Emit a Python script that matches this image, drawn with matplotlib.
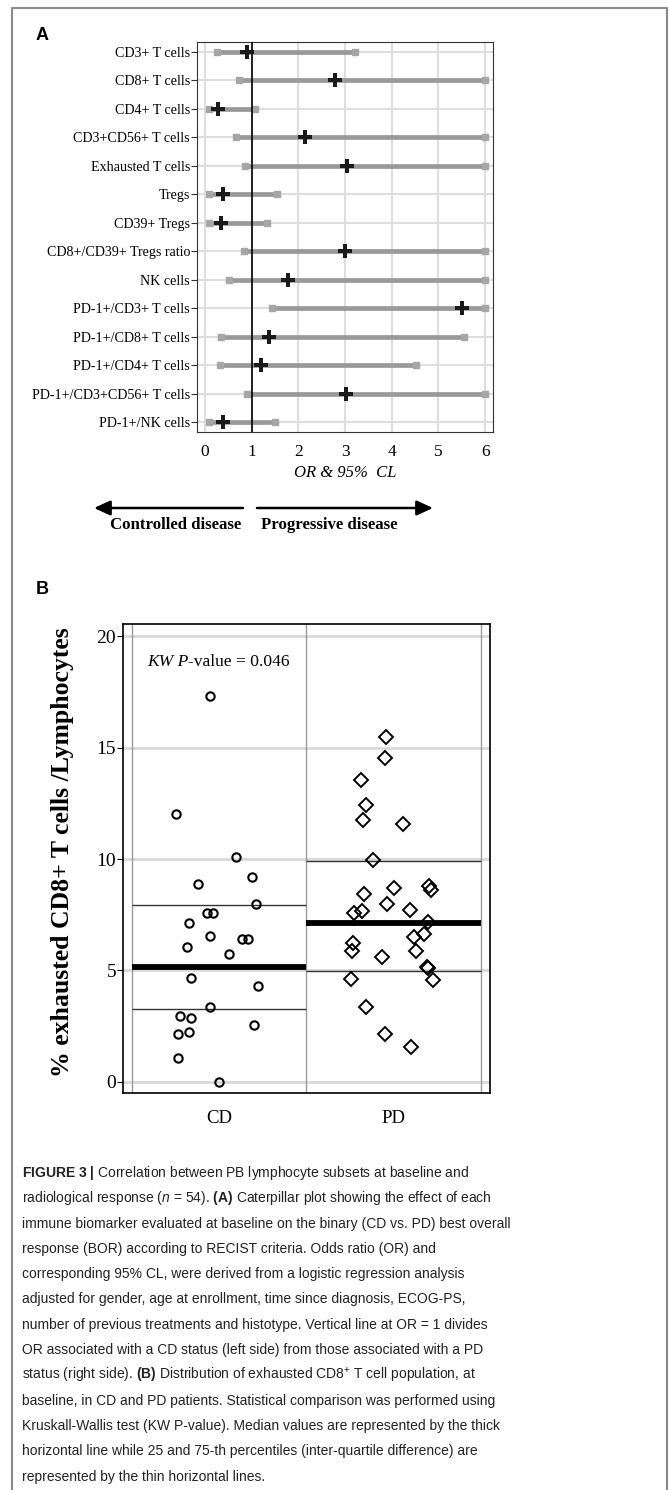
import matplotlib
matplotlib.use("Agg")
import matplotlib.pyplot as plt
from matplotlib import font_manager
from matplotlib.lines import Line2D
from matplotlib.patches import FancyArrowPatch
import numpy as np

# panel A: odds ratios and 95% CL per biomarker
biomarkers = ["CD3+ T cells", "CD8+ T cells", "CD4+ T cells", "CD3+CD56+ T cells",
              "Exhausted T cells", "Tregs", "CD39+ Tregs", "CD8+/CD39+ Tregs ratio",
              "NK cells", "PD-1+/CD3+ T cells", "PD-1+/CD8+ T cells", "PD-1+/CD4+ T cells",
              "PD-1+/CD3+CD56+ T cells", "PD-1+/NK cells"]
odds = [0.91, 2.79, 0.29, 2.14, 3.05, 0.39, 0.34, 3.01, 1.78, 5.50, 1.38, 1.20, 3.02, 0.39]
cl_low = [0.26, 0.74, 0.08, 0.66, 0.86, 0.09, 0.09, 0.83, 0.52, 1.43, 0.34, 0.32, 0.91, 0.09]
cl_high = [3.22, 6.0, 1.07, 6.0, 6.0, 1.55, 1.32, 6.0, 6.0, 6.0, 5.54, 4.52, 6.0, 1.51]

# panel B: % exhausted CD8+ T cells / lymphocytes (x = jittered group position)
cd_x = [0.949, 0.756, 1.098, 0.880, 1.191, 1.212, 0.827, 0.930, 0.968, 0.949, 0.819, 1.134,
        1.168, 1.056, 0.840, 1.226, 0.947, 0.775, 0.840, 0.764, 0.827, 1.201, 0.764, 0.999]
cd_y = [17.30, 12.03, 10.09, 8.89, 9.21, 7.97, 7.12, 7.56, 7.56, 6.55, 6.07, 6.40,
        6.40, 5.74, 4.66, 4.30, 3.35, 2.97, 2.85, 2.17, 2.24, 2.56, 1.05, 0.0]
pd_x = [1.956, 1.952, 1.812, 1.843, 1.827, 2.055, 1.885, 1.833, 2.001, 2.204, 2.215, 1.963,
        1.776, 1.820, 2.095, 2.200, 2.120, 2.173, 1.766, 1.764, 2.131, 1.933, 2.192, 2.198,
        1.755, 2.225, 1.843, 1.952, 2.100]
pd_y = [15.49, 14.54, 13.53, 12.44, 11.75, 11.58, 9.96, 8.43, 8.70, 8.80, 8.61, 8.00,
        7.59, 7.68, 7.71, 7.16, 6.50, 6.64, 6.25, 5.87, 5.87, 5.62, 5.17, 5.10,
        4.62, 4.57, 3.35, 2.15, 1.58]
groups = ["CD", "PD"]
medians = [5.17, 7.12]
q1 = [3.26, 4.99]
q3 = [7.94, 9.91]

caption = [
    r"$\mathbf{FIGURE\ 3\ |}$ Correlation between PB lymphocyte subsets at baseline and",
    r"radiological response ($\mathit{n}$ = 54). $\mathbf{(A)}$ Caterpillar plot showing the effect of each",
    "immune biomarker evaluated at baseline on the binary (CD vs. PD) best overall",
    "response (BOR) according to RECIST criteria. Odds ratio (OR) and",
    "corresponding 95% CL, were derived from a logistic regression analysis",
    "adjusted for gender, age at enrollment, time since diagnosis, ECOG-PS,",
    "number of previous treatments and histotype. Vertical line at OR = 1 divides",
    "OR associated with a CD status (left side) from those associated with a PD",
    r"status (right side). $\mathbf{(B)}$ Distribution of exhausted CD8$^{+}$ T cell population, at",
    "baseline, in CD and PD patients. Statistical comparison was performed using",
    "Kruskall-Wallis test (KW P-value). Median values are represented by the thick",
    "horizontal line while 25 and 75-th percentiles (inter-quartile difference) are",
    "represented by the thin horizontal lines.",
]

names = {f.name for f in font_manager.fontManager.ttflist}
narrow = "Liberation Sans Narrow" in names
cap_font = "Liberation Sans Narrow" if narrow else "Liberation Sans"
cap_size = 12.2 if narrow else 10.0
serif = "Liberation Serif"

plt.rcParams["mathtext.fontset"] = "custom"
plt.rcParams["mathtext.rm"] = cap_font
plt.rcParams["mathtext.it"] = cap_font + ":italic"
plt.rcParams["mathtext.bf"] = cap_font + ":bold"

W, H = 669, 1490
fig = plt.figure(figsize=(W / 100, H / 100), dpi=100)


def fx(px):
    return px / W


def fy(py):
    return 1 - py / H


# outer frame (open at the bottom)
fig.add_artist(Line2D([fx(12), fx(12), fx(667), fx(667)], [0, fy(8), fy(8), 0],
                      color="#8a8a8a", lw=1.5))

# ---------------- panel A ----------------
ax = fig.add_axes([fx(197), fy(432), fx(493) - fx(197), fy(42) - fy(432)])
n = len(biomarkers)
ypos = np.arange(n, 0, -1)
ax.hlines(ypos, cl_low, cl_high, color="#999999", lw=3.4, zorder=3)
ax.plot(cl_low, ypos, "s", color="#a6a6a6", ms=4.5, zorder=3)
ax.plot(cl_high, ypos, "s", color="#a6a6a6", ms=4.5, zorder=3)
ax.axvline(1, color="black", lw=1.2, zorder=4)
ax.plot(odds, ypos, "P", color="#1a1a1a", ms=10, mew=0, zorder=5)
ax.set_xlim(-0.17, 6.17)
ax.set_ylim(0.65, n + 0.35)
ax.set_xticks(range(7))
ax.set_yticks(ypos, biomarkers)
ax.grid(True, color="#dedede", lw=1.5, zorder=0)
ax.set_axisbelow(True)
for sp in ax.spines.values():
    sp.set_color("#333333")
ax.tick_params(axis="y", length=4, color="#333333", labelsize=10.1, pad=1)
ax.tick_params(axis="x", length=0, labelsize=12.5, pad=9)
for lab in ax.get_xticklabels() + ax.get_yticklabels():
    lab.set_family(serif)
fig.text(fx(345), fy(473), "OR & 95%  CL", family=serif, style="italic",
         fontsize=12, ha="center", va="center")

arrow_style = "-|>,head_length=0.7,head_width=0.32"
fig.add_artist(FancyArrowPatch((fx(243), fy(508)), (fx(94), fy(508)),
                               transform=fig.transFigure, arrowstyle=arrow_style,
                               mutation_scale=14, lw=1.8, color="black",
                               shrinkA=0, shrinkB=0))
fig.add_artist(FancyArrowPatch((fx(257), fy(508)), (fx(433), fy(508)),
                               transform=fig.transFigure, arrowstyle=arrow_style,
                               mutation_scale=14, lw=1.8, color="black",
                               shrinkA=0, shrinkB=0))
fig.text(fx(176), fy(525), "Controlled disease", family=serif, weight="bold",
         fontsize=12.1, ha="center", va="center")
fig.text(fx(329), fy(525), "Progressive disease", family=serif, weight="bold",
         fontsize=12.1, ha="center", va="center")

fig.text(fx(36), fy(36), "A", family="Liberation Sans", weight="bold",
         fontsize=13, ha="left", va="center")
fig.text(fx(36), fy(589), "B", family="Liberation Sans", weight="bold",
         fontsize=13, ha="left", va="center")

# ---------------- panel B ----------------
bx = fig.add_axes([fx(123), fy(1093), fx(490) - fx(123), fy(624) - fy(1093)])
bx.set_xlim(0.45, 2.553)
bx.set_ylim(-0.5, 20.55)
bx.set_yticks([0, 5, 10, 15, 20])
bx.set_xticks([1, 2], groups)
bx.grid(axis="y", color="#d9d9d9", lw=2, zorder=0)
bx.set_axisbelow(True)
for xv in [0.5, 1.5, 2.5]:
    bx.axvline(xv, color="#9a9a9a", lw=1, zorder=1)
for i in range(2):
    g = i + 1
    bx.hlines(medians[i], g - 0.5, g + 0.5, color="black", lw=4.2, zorder=2)
    bx.hlines([q1[i], q3[i]], g - 0.5, g + 0.5, color="#333333", lw=1, zorder=2)
bx.plot(cd_x, cd_y, "o", mfc="none", mec="black", ms=6, mew=1.5, zorder=3)
bx.plot(pd_x, pd_y, "D", mfc="none", mec="black", ms=7, mew=1.4, zorder=3)
for sp in bx.spines.values():
    sp.set_color("black")
    sp.set_linewidth(1.2)
bx.tick_params(axis="y", length=4, labelsize=14, pad=1)
bx.tick_params(axis="x", length=0, labelsize=13.5, pad=12)
for lab in bx.get_xticklabels() + bx.get_yticklabels():
    lab.set_family(serif)
fig.text(fx(63), fy(852), "% exhausted CD8+ T cells /Lymphocytes", family=serif,
         weight="bold", fontsize=18.5, rotation=90, ha="center", va="center")

renderer = fig.canvas.get_renderer()
t1 = fig.text(fx(147), fy(666), "KW P", family=serif, style="italic",
              fontsize=12.6, ha="left", va="baseline")
x_end = t1.get_window_extent(renderer).x1
fig.text(x_end / W, fy(666), "-value = 0.046", family=serif, fontsize=12.6,
         ha="left", va="baseline")

# ---------------- caption ----------------
for i, line in enumerate(caption):
    fig.text(fx(22), fy(1177 + i * 25.3), line, family=cap_font, fontsize=cap_size,
             color="#222222", ha="left", va="baseline")

fig.savefig("out.png", dpi=100)
